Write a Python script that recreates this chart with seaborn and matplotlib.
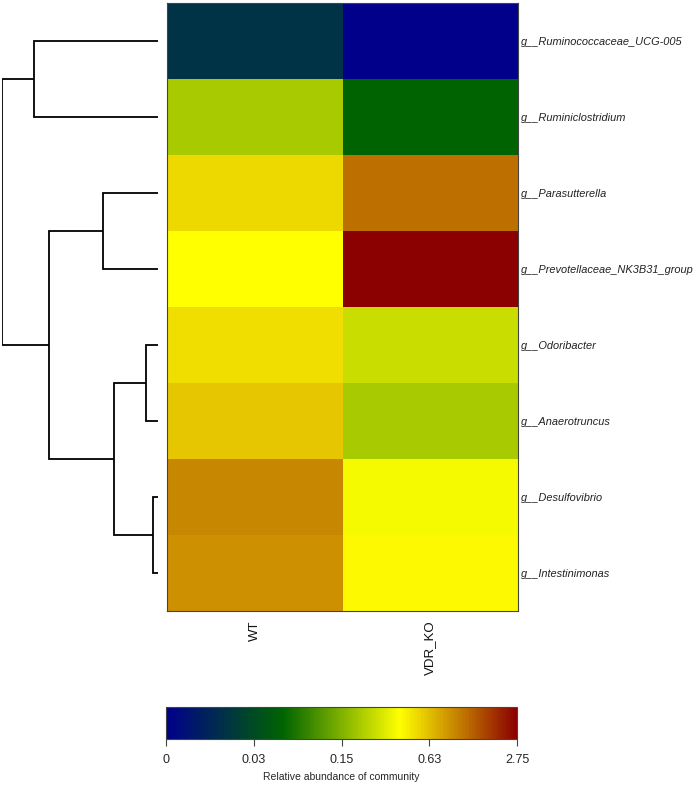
import numpy as np
import pandas as pd
import matplotlib
matplotlib.use('Agg')
import matplotlib.pyplot as plt
from matplotlib.colors import LinearSegmentedColormap
import seaborn as sns

# Genera (rows, top to bottom) and groups
genera = ['g__Ruminococcaceae_UCG-005', 'g__Ruminiclostridium', 'g__Parasutterella',
          'g__Prevotellaceae_NK3B31_group', 'g__Odoribacter', 'g__Anaerotruncus',
          'g__Desulfovibrio', 'g__Intestinimonas']
groups = ['WT', 'VDR_KO']

# Scaled relative abundance (position on the colour scale, 0..1)
wt = [0.17, 0.553, 0.717, 0.667, 0.71, 0.739, 0.823, 0.812]
vdr_ko = [0.0, 0.33, 0.853, 1.0, 0.594, 0.553, 0.655, 0.672]

# Colour bar ticks
cbar_pos = [0, 0.25, 0.5, 0.75, 1.0]
cbar_labels = ['0', '0.03', '0.15', '0.63', '2.75']

# Row dendrogram merges: (left node, right node, height); leaves are 0..7, new nodes 8..
merges = [(6, 7, 0.034), (4, 5, 0.077), (9, 8, 0.282), (2, 3, 0.353),
          (11, 10, 0.699), (0, 1, 0.795), (13, 12, 1.0)]

df = pd.DataFrame({'WT': wt, 'VDR_KO': vdr_ko}, index=genera)[groups]

cmap = LinearSegmentedColormap.from_list('abund', ['darkblue', 'darkgreen', 'yellow', 'darkred'])

sns.set_style('white')
plt.rcParams['font.family'] = ['Liberation Sans', 'DejaVu Sans']

W, H = 699, 785
fig = plt.figure(figsize=(W / 100, H / 100), dpi=100)

def fig_rect(x0, y0, x1, y1):
    return [x0 / W, 1 - y1 / H, (x1 - x0) / W, (y1 - y0) / H]

ax = fig.add_axes(fig_rect(167, 3, 518, 611))
cax = fig.add_axes(fig_rect(166, 707, 517, 739))
dax = fig.add_axes(fig_rect(2, 3, 158, 611))

sns.heatmap(df, ax=ax, cmap=cmap, vmin=0, vmax=1, cbar_ax=cax,
            cbar_kws={'orientation': 'horizontal', 'ticks': cbar_pos})

ax.yaxis.tick_right()
ax.set_yticklabels(genera, rotation=0, fontsize=7.9, style='italic', color='#222222')
ax.set_xticklabels(groups, rotation=90, fontsize=9.5, color='#111111')
ax.tick_params(axis='x', length=0, pad=7)
ax.tick_params(axis='y', length=0, pad=2.5)
ax.set_xlabel('')
ax.set_ylabel('')
for s in ax.spines.values():
    s.set_visible(True)
    s.set_color('#444444')
    s.set_linewidth(0.8)

# colour bar
cbar = ax.collections[0].colorbar
cbar.set_ticklabels(cbar_labels)
cbar.ax.tick_params(labelsize=9, length=5, width=0.8, color='#444444', pad=6)
cbar.outline.set_edgecolor('#444444')
cbar.outline.set_linewidth(0.8)
cbar.set_label('Relative abundance of community', fontsize=7.5, labelpad=4)

# dendrogram
pos = {i: i + 0.5 for i in range(len(genera))}
hgt = {i: 0.0 for i in range(len(genera))}
node = len(genera)
for a, b, h in merges:
    ya, yb = pos[a], pos[b]
    dax.plot([hgt[a], h, h, hgt[b]], [ya, ya, yb, yb], color='black', lw=1.3,
             solid_joinstyle='miter', solid_capstyle='butt')
    pos[node] = (ya + yb) / 2
    hgt[node] = h
    node += 1

dax.set_xlim(1.0, 0)
dax.set_ylim(len(genera), 0)
dax.axis('off')

fig.savefig('out.png', dpi=100)
